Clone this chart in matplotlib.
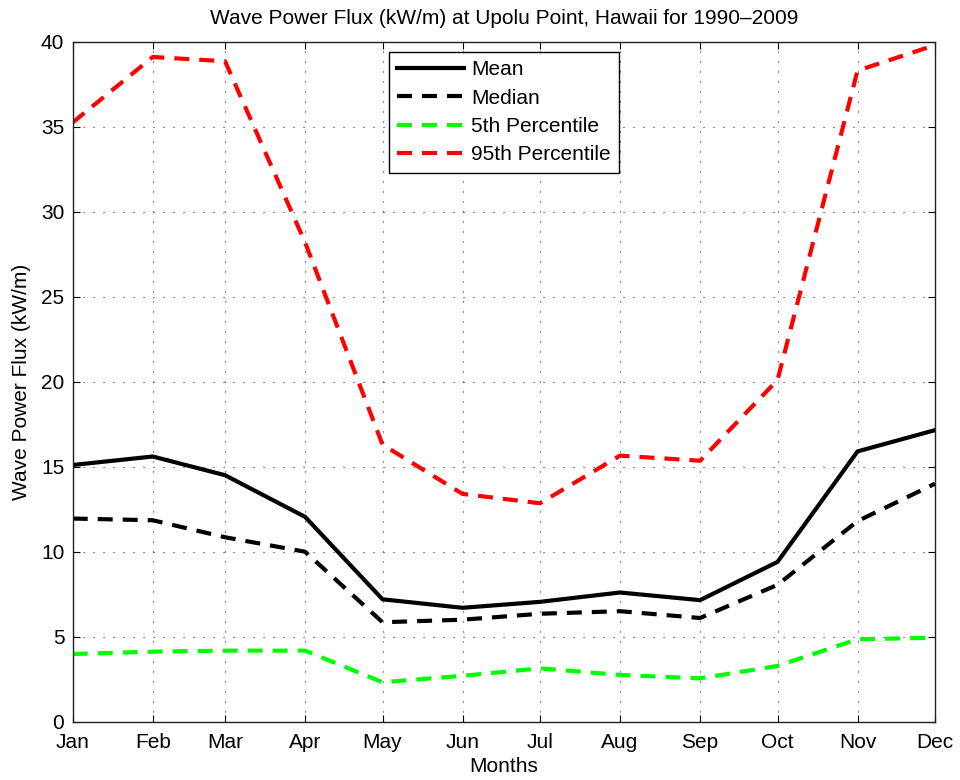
import numpy as np
import matplotlib
matplotlib.use('Agg')
import matplotlib.pyplot as plt

plt.rcParams['font.family'] = ['Liberation Sans', 'DejaVu Sans']
fs = 15

#first day of each month (plotted as dates, like the original datenum axis)
months = np.arange('2001-01', '2002-01', dtype='datetime64[M]').astype('datetime64[D]')
month_labels = ['Jan', 'Feb', 'Mar', 'Apr', 'May', 'Jun',
                'Jul', 'Aug', 'Sep', 'Oct', 'Nov', 'Dec']

#monthly wave power flux statistics (kW/m)
mean_flux = [15.1, 15.6, 14.5, 12.05, 7.2, 6.7, 7.05, 7.6, 7.15, 9.4, 15.9, 17.15]
median_flux = [11.95, 11.85, 10.85, 10.0, 5.85, 6.0, 6.35, 6.5, 6.1, 8.05, 11.8, 14.0]
p5_flux = [3.98, 4.12, 4.18, 4.18, 2.32, 2.7, 3.14, 2.75, 2.55, 3.28, 4.85, 4.94]
p95_flux = [35.25, 39.1, 38.85, 28.2, 16.3, 13.4, 12.85, 15.65, 15.35, 20.1, 38.3, 39.8]

fig = plt.figure(figsize=(9.6, 7.8), dpi=100)
ax = fig.add_axes([72.7/960, 1-721.7/780, (935-72.7)/960, 680/780])

dash = (0, (3.6, 2.4))
lw = 3.0
ax.plot(months, mean_flux, color='black', lw=lw, label='Mean')
ax.plot(months, median_flux, color='black', lw=lw, ls=dash, label='Median')
ax.plot(months, p5_flux, color='#00ff00', lw=lw, ls=dash, label='5th Percentile')
ax.plot(months, p95_flux, color='#ff0000', lw=lw, ls=dash, label='95th Percentile')

#axis limits and ticks
ax.set_xlim(months[0], months[-1])
ax.set_ylim(0, 40)
ax.set_xticks(months)
ax.set_xticklabels(month_labels)
ax.set_yticks(np.arange(0, 41, 5))
ax.tick_params(direction='in', length=5, width=0.8, top=True, right=True,
               labelsize=fs, colors='black', pad=6)
ax.tick_params(axis='x', pad=8)

ax.grid(True, color='#333333', ls=(0, (1, 8)), lw=0.8)
for s in ax.spines.values():
    s.set_linewidth(1.0)
    s.set_color('#222222')

ax.set_xlabel('Months', fontsize=fs, labelpad=4)
ax.set_ylabel('Wave Power Flux (kW/m)', fontsize=fs, labelpad=7)
ax.set_title('Wave Power Flux (kW/m) at Upolu Point, Hawaii for 1990\u20132009',
             fontsize=fs, pad=13)

leg = ax.legend(loc='upper center', bbox_to_anchor=(0.5, 0.985), fontsize=fs,
                handlelength=3.2, labelspacing=0.45, borderpad=0.4,
                handletextpad=0.35, fancybox=False, framealpha=1,
                edgecolor='black', borderaxespad=0)
leg.get_frame().set_linewidth(1.0)

fig.savefig('out.png', dpi=100)
